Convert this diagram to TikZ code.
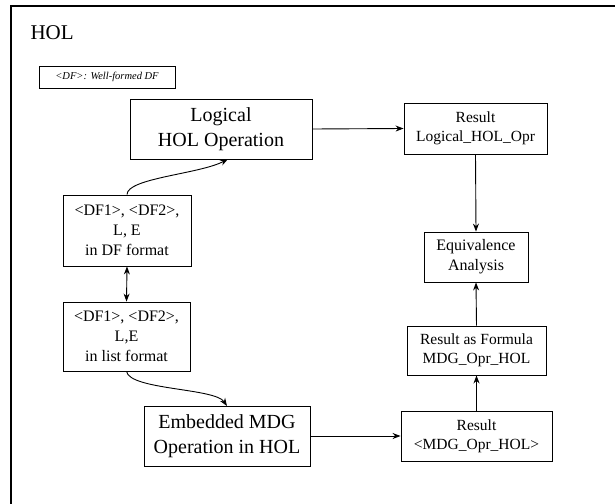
\documentclass[tikz,border=0pt]{standalone}
\usepackage{fontspec}
\setmainfont{Liberation Serif}
\usetikzlibrary{arrows.meta}
\begin{document}
\begin{tikzpicture}[x=1pt,y=-1pt,
  box/.style={draw,line width=0.9pt,inner sep=0pt,align=center,fill=white},
  bigtxt/.style={font=\fontsize{20}{25}\selectfont},
  midtxt/.style={font=\fontsize{16}{20}\selectfont},
  smalltxt/.style={font=\fontsize{15.5}{19}\selectfont},
  conn/.style={line width=0.9pt,-{Stealth[length=8pt,width=6pt]}},
  biconn/.style={line width=0.9pt,{Stealth[length=8pt,width=6pt]}-{Stealth[length=8pt,width=6pt]}}]
\useasboundingbox (0,0) rectangle (615,503);
\fill[white] (0,0) rectangle (615,503);
% outer frame, running off the page at the right and bottom
\begin{scope}
  \clip (0,0) rectangle (615,503);
  \draw[line width=1.3pt] (11,6) rectangle (640,530);
\end{scope}

\node[anchor=base west,font=\fontsize{21}{25}\selectfont] (title) at (27,40) {HOL};
\node[box,line width=0.6pt,minimum width=136pt,minimum height=22pt,
      font=\fontsize{10.5}{12}\selectfont\itshape] (legend) at (107,77) {<DF>: Well-formed DF};

\node[box,bigtxt,minimum width=182pt,minimum height=60pt] (logic) at (221,129)
  {Logical\\HOL Operation};
\node[box,smalltxt,minimum width=143pt,minimum height=51pt] (resl) at (475.5,128.5)
  {Result\\Logical\_HOL\_Opr};
\node[box,midtxt,minimum width=104pt,minimum height=50pt] (equiv) at (476,257)
  {Equivalence\\Analysis};
\node[box,smalltxt,minimum width=139pt,minimum height=49pt] (resf) at (476.5,350.5)
  {Result as Formula\\MDG\_Opr\_HOL};
\node[box,smalltxt,minimum width=151pt,minimum height=50pt] (resm) at (476.5,436)
  {Result\\<MDG\_Opr\_HOL>};
\node[box,bigtxt,minimum width=166pt,minimum height=60pt] (emb) at (227,436)
  {Embedded MDG\\Operation in HOL};
\node[box,midtxt,minimum width=128pt,minimum height=71pt] (dff) at (127,230.5)
  {<DF1>, <DF2>,\\L, E\\in DF format};
\node[box,midtxt,minimum width=127pt,minimum height=69pt] (dfl) at (126.5,336.5)
  {<DF1>, <DF2>,\\L,E\\in list format};

\coordinate (logicin) at (228,159);
\coordinate (embin) at (227,406);

\draw[conn] (logic.east) -- (resl.west);
\draw[conn] (resl.south) -- (equiv.north);
\draw[conn] (resf.north) -- (equiv.south);
\draw[conn] (resm.north) -- (resf.south);
\draw[conn] (emb.east) -- (resm.west);
\draw[biconn] (dff.south) -- (dfl.north);
\draw[conn] (dff.north) .. controls (127,178) and (200,174) .. (logicin);
\draw[conn] (dfl.south) .. controls (130,390) and (215,388) .. (embin);
\end{tikzpicture}
\end{document}
